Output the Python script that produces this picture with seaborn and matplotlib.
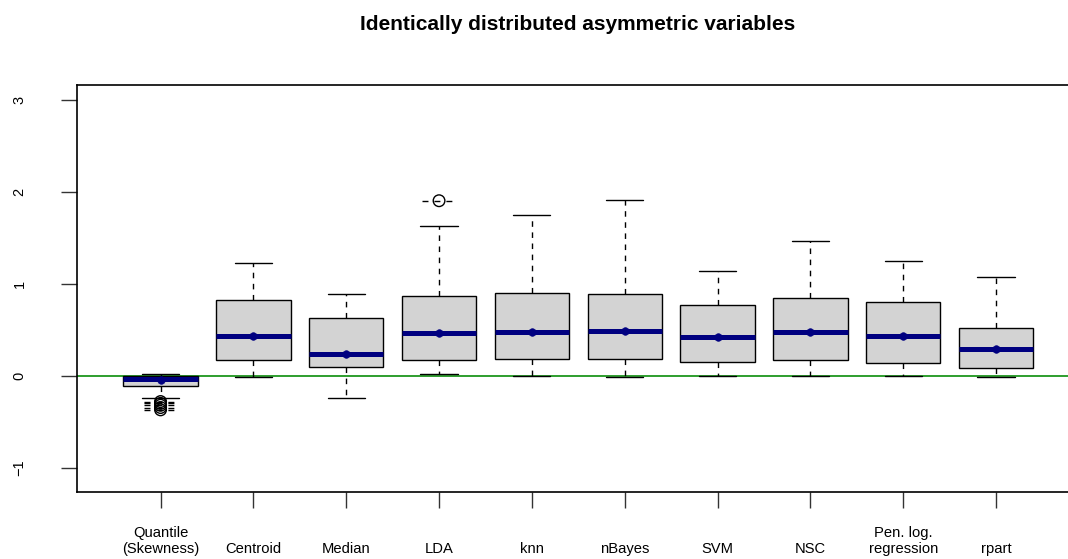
import numpy as np
import pandas as pd
import matplotlib
matplotlib.use("Agg")
import matplotlib.pyplot as plt
import matplotlib.transforms as mtransforms
import seaborn as sns

methods = ["Quantile\n(Skewness)", "Centroid", "Median", "LDA", "knn",
           "nBayes", "SVM", "NSC", "Pen. log.\nregression", "rpart"]
lower = [-0.245, -0.01, -0.246, 0.015, 0.0, -0.014, -0.007, -0.003, -0.003, -0.014]
q1 = [-0.112, 0.171, 0.098, 0.167, 0.185, 0.182, 0.152, 0.167, 0.138, 0.080]
med = [-0.030, 0.432, 0.236, 0.468, 0.479, 0.486, 0.421, 0.476, 0.428, 0.287]
q3 = [-0.003, 0.824, 0.624, 0.864, 0.903, 0.892, 0.769, 0.849, 0.802, 0.515]
upper = [0.018, 1.223, 0.892, 1.632, 1.749, 1.910, 1.143, 1.466, 1.251, 1.074]
means = [-0.045, 0.432, 0.236, 0.468, 0.479, 0.486, 0.421, 0.476, 0.428, 0.287]

flier_method = [0, 0, 0, 0, 0, 3]
flier_value = [-0.28, -0.30, -0.32, -0.345, -0.37, 1.905]

# five values per method so the quartiles come out
rows = []
for i, m in enumerate(methods):
    for v in (lower[i], q1[i], med[i], q3[i], upper[i]):
        rows.append({"method": m, "value": v})
df = pd.DataFrame(rows)

sns.set_style("white")
plt.rcParams['font.family'] = ['Liberation Sans', 'DejaVu Sans']
plt.rcParams['text.color'] = 'black'
plt.rcParams['xtick.color'] = 'black'
plt.rcParams['ytick.color'] = 'black'
plt.rcParams['axes.labelcolor'] = 'black'

fig = plt.figure(figsize=(10.68, 5.59), dpi=100)
ax = fig.add_axes([77 / 1068, 1 - 492 / 559, (1079.6 - 77) / 1068, (492 - 85) / 559])

ax.axhline(0, color="#2E9E2E", lw=1.4, zorder=0.5)

sns.boxplot(data=df, x="method", y="value", order=methods, whis=(0, 100),
            width=0.8, color="lightgray", linecolor="black", linewidth=1.0,
            saturation=1, showfliers=False,
            medianprops=dict(color="navy", linewidth=3.6),
            whiskerprops=dict(linestyle=(0, (4, 4))),
            ax=ax)

x_idx = np.arange(len(methods))
sns.scatterplot(x=x_idx, y=means, color="navy", edgecolor="navy", s=30,
                zorder=5, ax=ax, legend=False)

fx = np.array(flier_method)
ax.hlines(flier_value, fx - 0.18, fx + 0.18, colors="black", lw=1.0,
          linestyles=(0, (4.3, 4.3)), zorder=4)
sns.scatterplot(x=fx, y=flier_value, marker="o", s=70, facecolor="none",
                edgecolor="black", linewidth=1.0, zorder=6, ax=ax, legend=False)

ax.set_xlim(-0.9, 9.9)
ax.set_ylim(-1.264, 3.164)
ax.set_yticks([-1, 0, 1, 2, 3])
ax.set_yticklabels(["\u22121", "0", "1", "2", "3"], rotation=90, va="center", fontsize=10.5)
ax.set_xticks(x_idx)
ax.set_xticklabels([])
ax.tick_params(axis="both", length=11.3, width=1.0, color="#333333", direction="out",
               bottom=True, left=True)
ax.tick_params(axis="y", pad=25)
ax.set_xlabel("")
ax.set_ylabel("")
for s in ax.spines.values():
    s.set_color("black")
    s.set_linewidth(1.2)

trans = mtransforms.blended_transform_factory(ax.transData, fig.transFigure)
for i, m in enumerate(methods):
    ax.text(i, 1 - 556 / 559, m, transform=trans, ha="center", va="bottom",
            fontsize=10.6, linespacing=1.2)

fig.text(578 / 1068, 1 - 24 / 559, "Identically distributed asymmetric variables",
         ha="center", va="center", fontsize=15, fontweight="bold")

fig.savefig("out.png", dpi=100)
